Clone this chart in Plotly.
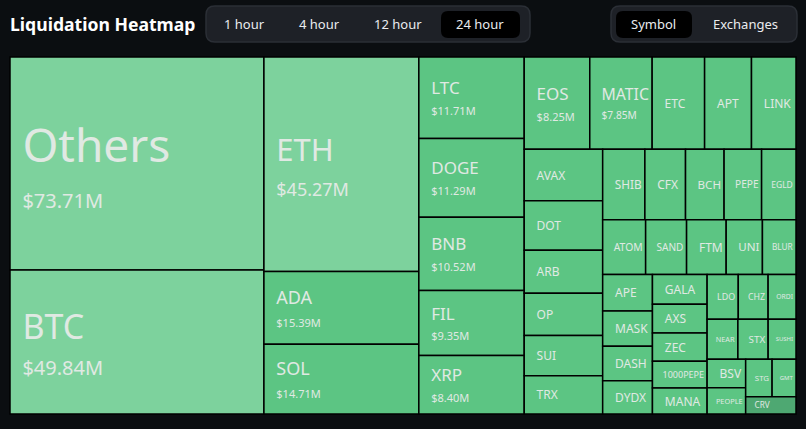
import plotly.graph_objects as go

# ---------------- data ----------------
symbols = ["Others", "BTC", "ETH", "ADA", "SOL", "LTC", "DOGE", "BNB", "FIL", "XRP",
           "EOS", "MATIC", "ETC", "APT", "LINK", "AVAX", "DOT", "ARB", "OP", "SUI", "TRX",
           "SHIB", "CFX", "BCH", "PEPE", "EGLD", "ATOM", "SAND", "FTM", "UNI", "BLUR",
           "APE", "MASK", "DASH", "DYDX", "GALA", "AXS", "ZEC", "1000PEPE", "MANA",
           "LDO", "CHZ", "ORDI", "NEAR", "STX", "SUSHI", "BSV", "PEOPLE", "STG", "GMT", "CRV"]
liq_musd = [73.71, 49.84, 45.27, 15.39, 14.71, 11.71, 11.29, 10.52, 9.35, 8.40,
            8.25, 7.85, 6.60, 5.90, 5.60, 5.50, 5.30, 4.60, 4.50, 4.30, 4.10,
            4.05, 3.90, 3.70, 3.60, 3.30, 3.20, 3.05, 2.95, 2.70, 2.50,
            2.48, 2.40, 2.33, 2.26, 2.22, 2.15, 2.10, 2.00, 1.93,
            1.90, 1.82, 1.70, 1.68, 1.65, 1.52, 1.50, 1.38, 1.35, 1.22, 1.19]
time_ranges = ["1 hour", "4 hour", "12 hour", "24 hour"]
selected_range = "24 hour"
view_modes = ["Symbol", "Exchanges"]
selected_view = "Symbol"

# ---------------- styles ----------------
LIGHT = "#7dd29d"
MID = "#5cc583"
DARK = "#4ea872"
light_set = {"Others", "BTC", "ETH"}
dark_set = {"CRV"}
colors = [LIGHT if s in light_set else DARK if s in dark_set else MID for s in symbols]

# (base size -> line spacing, name size, value size); value None => name only
big_style = {"Others": (36, 46, 20), "BTC": (28, 34, 20), "ETH": (27, 31, 18),
             "ADA": (18, 18, 11), "SOL": (18, 18, 11)}
mid_names = {"LTC", "DOGE", "BNB", "FIL", "XRP", "EOS", "MATIC"}

pad = "<span style='font-size:12px'>\u00a0\u00a0\u00a0</span>"
templates, sizes = [], []
for s in symbols:
    if s in big_style:
        b, n, v = big_style[s]
    elif s in mid_names:
        b, n, v = 16, 17, 11
    else:
        b, n, v = (13 if s in dark_set else 12), None, None
    sizes.append(b)
    if n is None:
        templates.append(pad + "%{label}")
    else:
        templates.append(pad + "<span style='font-size:%dpx'>%%{label}</span><br>" % n + pad +
                         "<span style='font-size:%dpx'>$%%{value:.2f}M</span>" % v)

fig = go.Figure(go.Treemap(
    labels=symbols,
    parents=[""] * len(symbols),
    values=liq_musd,
    sort=True,
    branchvalues="remainder",
    marker=dict(colors=colors, line=dict(color="#000000", width=1.5), pad=dict(t=0, l=0, r=0, b=0)),
    tiling=dict(packing="squarify", squarifyratio=1.618, pad=0),
    pathbar=dict(visible=False),
    texttemplate=templates,
    textposition="middle left",
    textfont=dict(size=sizes, color="#e0e9e3", family="Noto Sans"),
    hovertemplate="%{label}: $%{value:.2f}M<extra></extra>",
    root=dict(color="#0b0e11"),
))

W, H = 806, 429
ML, MR, MT, MB = 10, 10, 57, 15
PW, PH = W - ML - MR, H - MT - MB


def px(x):
    return (x - ML) / PW


def py(y):
    return (H - MB - y) / PH


def rrect(x0, y0, x1, y1, r, fill, line=None):
    rx, ry = r / PW, r / PH
    X0, X1, Y0, Y1 = px(x0), px(x1), py(y1), py(y0)
    path = (f"M {X0+rx},{Y0} L {X1-rx},{Y0} Q {X1},{Y0} {X1},{Y0+ry} "
            f"L {X1},{Y1-ry} Q {X1},{Y1} {X1-rx},{Y1} L {X0+rx},{Y1} "
            f"Q {X0},{Y1} {X0},{Y1-ry} L {X0},{Y0+ry} Q {X0},{Y0} {X0+rx},{Y0} Z")
    return dict(type="path", xref="paper", yref="paper", path=path,
                fillcolor=fill, line=dict(color=line or fill, width=1.5 if line else 0),
                layer="above")


shapes = []
annotations = []
annotations.append(dict(x=px(8), y=py(24), xref="paper", yref="paper", xanchor="left",
                        yanchor="middle", showarrow=False,
                        text="<b>Liquidation Heatmap</b>",
                        font=dict(size=17.6, color="#ffffff", family="Noto Sans")))

# time range segmented control
shapes.append(rrect(206, 6, 530, 42, 9, "#1e2127", "#2b2f36"))
tr_centers = [244, 319, 398, 480]
for lab, cx in zip(time_ranges, tr_centers):
    if lab == selected_range:
        shapes.append(rrect(441, 11, 520, 38, 7, "#000000"))
    annotations.append(dict(x=px(cx), y=py(24), xref="paper", yref="paper",
                            xanchor="center", yanchor="middle", showarrow=False, text=lab,
                            font=dict(size=13, color="#eaecef", family="Noto Sans")))

# view mode segmented control
shapes.append(rrect(611, 6, 797, 42, 9, "#1e2127", "#2b2f36"))
vm_centers = [653, 745]
for lab, cx in zip(view_modes, vm_centers):
    if lab == selected_view:
        shapes.append(rrect(616, 11, 692, 38, 7, "#000000"))
    annotations.append(dict(x=px(cx), y=py(24), xref="paper", yref="paper",
                            xanchor="center", yanchor="middle", showarrow=False, text=lab,
                            font=dict(size=13, color="#eaecef", family="Noto Sans")))

fig.update_layout(
    width=W, height=H,
    margin=dict(l=ML, r=MR, t=MT, b=MB),
    paper_bgcolor="#0b0e11",
    plot_bgcolor="#0b0e11",
    shapes=shapes,
    annotations=annotations,
    showlegend=False,
)

fig.write_html(
    "out.html",
    config={"displayModeBar": False},
    post_script="document.body.style.margin='0';document.body.style.background='#0b0e11';",
)
